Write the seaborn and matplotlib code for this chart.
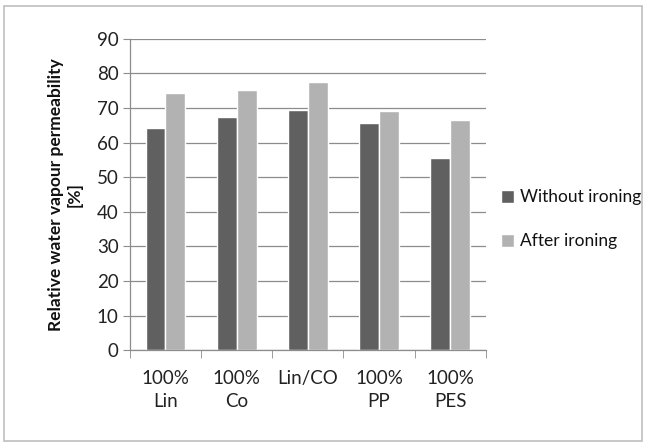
import matplotlib
matplotlib.use("Agg")
import matplotlib.pyplot as plt
import seaborn as sns
import pandas as pd
from matplotlib.patches import Rectangle

categories = ["100%\nLin", "100%\nCo", "Lin/CO", "100%\nPP", "100%\nPES"]
without_ironing = [64.3, 67.3, 69.3, 65.6, 55.5]
after_ironing = [74.3, 75.2, 77.4, 69.0, 66.4]
series_names = ["Without ironing", "After ironing"]
y_ticks = list(range(0, 91, 10))

df = pd.DataFrame({
    "material": categories * 2,
    "value": without_ironing + after_ironing,
    "series": [series_names[0]] * len(categories) + [series_names[1]] * len(categories),
})

sns.set_style("white")
plt.rcParams["font.family"] = ["Lato", "DejaVu Sans"]

fig = plt.figure(figsize=(6.46, 4.46), dpi=100)
ax = fig.add_axes([0.201, 0.215, 0.551, 0.698])

sns.barplot(data=df, x="material", y="value", hue="series",
            palette=["#606060", "#b2b2b2"], width=0.56,
            saturation=1, ax=ax, legend=True)

ax.set_ylim(0, 90)
ax.set_xlim(-0.5, len(categories) - 0.5)
ax.set_yticks(y_ticks)
ax.yaxis.grid(True, color="#8c8c8c", linewidth=0.9)
ax.set_axisbelow(True)
for side in ["top", "right"]:
    ax.spines[side].set_visible(False)
for side in ["left", "bottom"]:
    ax.spines[side].set_color("#8c8c8c")
    ax.spines[side].set_linewidth(0.9)

ax.tick_params(axis="y", length=5, color="#8c8c8c", labelsize=13.5,
               labelcolor="#222222", left=True, pad=3)
# category boundary ticks on the x axis
ax.set_xticks([i - 0.5 for i in range(len(categories) + 1)], minor=True)
ax.tick_params(axis="x", which="minor", length=6, color="#8c8c8c", bottom=True)
ax.tick_params(axis="x", which="major", length=0, labelsize=13.5,
               labelcolor="#222222", pad=14)
for lbl in ax.get_xticklabels():
    lbl.set_linespacing(1.45)
ax.set_xlabel("")
ax.set_ylabel("Relative water vapour permeability\n[%]", fontsize=12.5,
              fontweight="bold", color="#111111", labelpad=10)

leg = ax.legend(loc="center left", bbox_to_anchor=(1.0, 0.42), frameon=False,
                fontsize=12.5, handlelength=0.75, handleheight=0.75,
                handletextpad=0.3, labelspacing=1.6)
for t in leg.get_texts():
    t.set_color("#111111")

fig.patches.append(Rectangle((0.006, 0.012), 0.988, 0.975, transform=fig.transFigure,
                             fill=False, edgecolor="#bfbfbf", linewidth=1.2))

fig.savefig("out.png", dpi=100)
